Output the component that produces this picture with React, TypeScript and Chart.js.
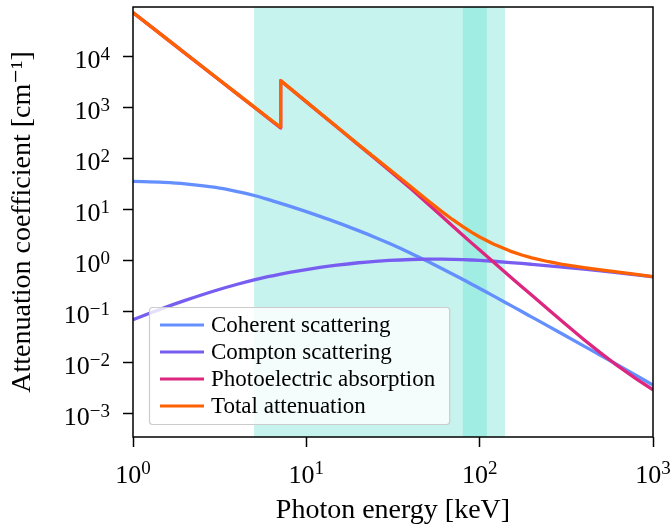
import React, { useEffect, useRef } from "react";
import { Chart, registerables } from "chart.js";

Chart.register(...registerables);

// Photon energies in keV (K-edge repeated)
const energies = [1, 1.5, 2, 3, 4, 5, 6, 7.112, 7.112, 8, 10, 12, 15, 20, 25, 30, 40, 50, 60, 70, 80, 90, 100, 120, 150, 175, 200, 250, 300, 400, 500, 600, 800, 1000];
// Attenuation coefficients in cm^-1
const coherent = [36.0, 34.5, 32.4, 27.4, 22.7, 19.1, 16.0, 13.4, 13.4, 11.8, 9.2, 7.45, 5.68, 3.9, 2.87, 2.2, 1.41, 0.977, 0.716, 0.546, 0.43, 0.348, 0.286, 0.205, 0.135, 0.101, 0.0787, 0.0518, 0.0366, 0.0212, 0.0139, 0.00977, 0.00562, 0.00366];
const compton = [0.07, 0.1186, 0.1675, 0.262, 0.347, 0.4226, 0.487, 0.5485, 0.5485, 0.5916, 0.673, 0.74, 0.82, 0.915, 0.978, 1.018, 1.06, 1.074, 1.074, 1.066, 1.053, 1.037, 1.02, 0.98, 0.925, 0.886, 0.852, 0.797, 0.753, 0.685, 0.633, 0.592, 0.529, 0.483];
const photoelectric = [74000, 25200, 11700, 3990, 1860, 1025, 631, 402, 3400, 2450, 1310, 785, 420, 186, 100, 60, 26.1, 13.3, 7.64, 4.78, 3.18, 2.22, 1.62, 0.944, 0.489, 0.31, 0.21, 0.109, 0.0644, 0.0284, 0.01545, 0.00966, 0.00484, 0.00295];
const total = [74036, 25235, 11733, 4018, 1883, 1044.5, 647.5, 416, 3414, 2462, 1320, 793, 426.5, 190.8, 103.8, 63.2, 28.57, 15.35, 9.43, 6.39, 4.66, 3.61, 2.93, 2.13, 1.55, 1.3, 1.14, 0.958, 0.854, 0.735, 0.662, 0.611, 0.539, 0.49];

const seriesLabels = ["Coherent scattering", "Compton scattering", "Photoelectric absorption", "Total attenuation"];
const seriesColors = ["#648FFF", "#785EF0", "#DC267F", "#FE6100"];
const seriesSmooth = [true, true, false, false];

// shaded energy windows (keV)
const bandRanges = [[5, 140], [80, 110]];
const bandColors = ["#c6f3ed", "#a0ede3"];

// axis ticks
const xTicks = [1, 10, 100, 1000];
const yTicks = [1e-3, 1e-2, 1e-1, 1, 10, 100, 1000, 10000];
const xRange = [1, 1000];
const yRange = [3.5e-4, 9.5e4];

const xTitle = "Photon energy [keV]";
const yTitle = "Attenuation coefficient [cm\u207B\u00B9]";

const FONT = "'Liberation Serif', 'DejaVu Serif', serif";

const bandPlugin = {
  id: "bands",
  beforeDatasetsDraw(chart: any) {
    const { ctx, chartArea: ca, scales } = chart;
    ctx.save();
    bandRanges.forEach((r, i) => {
      const x0 = scales.x.getPixelForValue(r[0]);
      const x1 = scales.x.getPixelForValue(r[1]);
      ctx.fillStyle = bandColors[i];
      ctx.fillRect(x0, ca.top, x1 - x0, ca.bottom - ca.top);
    });
    ctx.restore();
  },
};

const framePlugin = {
  id: "frame",
  afterDatasetsDraw(chart: any) {
    const { ctx, chartArea: ca } = chart;
    ctx.save();
    ctx.strokeStyle = "#000";
    ctx.lineWidth = 1.5;
    ctx.strokeRect(ca.left, ca.top, ca.right - ca.left, ca.bottom - ca.top);
    ctx.restore();
  },
};

const expText = (v: number) => {
  const e = Math.round(Math.log10(v));
  return e < 0 ? "\u2212" + String(-e) : String(e);
};

const tickLabelPlugin = {
  id: "tickLabels",
  afterDraw(chart: any) {
    const { ctx, chartArea: ca, scales } = chart;
    ctx.save();
    ctx.fillStyle = "#000";
    ctx.textBaseline = "alphabetic";
    ctx.textAlign = "left";
    const baseFont = `26px ${FONT}`;
    const supFont = `19px ${FONT}`;
    yTicks.forEach((v) => {
      const py = scales.y.getPixelForValue(v);
      const ex = expText(v);
      ctx.font = supFont;
      const we = ctx.measureText(ex).width;
      ctx.font = baseFont;
      const wb = ctx.measureText("10").width;
      const right = ca.left - 23;
      const base = py + 11.3;
      ctx.fillText("10", right - we - wb, base);
      ctx.font = supFont;
      ctx.fillText(ex, right - we, base - 8.5);
    });
    xTicks.forEach((v) => {
      const px = scales.x.getPixelForValue(v);
      const ex = expText(v);
      ctx.font = supFont;
      const we = ctx.measureText(ex).width;
      ctx.font = baseFont;
      const wb = ctx.measureText("10").width;
      const start = px - (we + wb) / 2;
      const base = ca.bottom + 45.7;
      ctx.fillText("10", start, base);
      ctx.font = supFont;
      ctx.fillText(ex, start + wb, base - 8.5);
    });
    ctx.restore();
  },
};

const legendPlugin = {
  id: "insideLegend",
  afterDraw(chart: any) {
    const { ctx, chartArea: ca } = chart;
    const ds = chart.data.datasets;
    ctx.save();
    ctx.font = `23px ${FONT}`;
    let maxW = 0;
    ds.forEach((d: any) => {
      maxW = Math.max(maxW, ctx.measureText(d.label).width);
    });
    const rowH = 27;
    const left = ca.left + 16;
    const boxH = rowH * (ds.length - 1) + 36;
    const bottom = ca.bottom - 13;
    const top = bottom - boxH;
    const boxW = 11 + 44 + 7 + maxW + 14;
    ctx.beginPath();
    if ((ctx as any).roundRect) (ctx as any).roundRect(left + 0.5, top + 0.5, boxW, boxH, 3);
    else ctx.rect(left + 0.5, top + 0.5, boxW, boxH);
    ctx.fillStyle = "rgba(255,255,255,0.8)";
    ctx.fill();
    ctx.strokeStyle = "#cccccc";
    ctx.lineWidth = 1.2;
    ctx.stroke();
    ds.forEach((d: any, i: number) => {
      const y = top + 18 + i * rowH;
      ctx.strokeStyle = d.borderColor;
      ctx.lineWidth = 3.2;
      ctx.beginPath();
      ctx.moveTo(left + 11, y);
      ctx.lineTo(left + 55, y);
      ctx.stroke();
      ctx.fillStyle = "#000";
      ctx.textBaseline = "middle";
      ctx.textAlign = "left";
      ctx.fillText(d.label, left + 62, y + 1);
    });
    ctx.restore();
  },
};

const seriesValues = [coherent, compton, photoelectric, total];

export default function App() {
  const ref = useRef<HTMLCanvasElement>(null);
  useEffect(() => {
    const canvas = ref.current;
    if (!canvas) return;
    const datasets = seriesValues.map((vals, i) => {
      const pts = energies.map((e, j) => ({ x: e, y: vals[j] }));
      // smooth scattering curves have no edge: drop the repeated energy
      const data = seriesSmooth[i] ? pts.filter((p, j) => j === 0 || energies[j] !== energies[j - 1]) : pts;
      return {
        label: seriesLabels[i],
        data,
        borderColor: seriesColors[i],
        backgroundColor: seriesColors[i],
        borderWidth: 3.3,
        pointRadius: 0,
        tension: 0,
        cubicInterpolationMode: seriesSmooth[i] ? ("monotone" as const) : ("default" as const),
        fill: false,
        borderJoinStyle: "round" as const,
        order: seriesValues.length - 1 - i,
      };
    });
    const chart = new Chart(canvas, {
      type: "line",
      data: { datasets },
      options: {
        responsive: false,
        animation: false,
        devicePixelRatio: 1,
        layout: { padding: { top: 7, right: 19, left: 0, bottom: 0 } },
        plugins: { legend: { display: false }, tooltip: { enabled: false } },
        scales: {
          x: {
            type: "logarithmic",
            min: xRange[0],
            max: xRange[1],
            afterBuildTicks: (s: any) => {
              s.ticks = xTicks.map((v) => ({ value: v }));
            },
            afterFit: (s: any) => {
              s.height = 92;
            },
            grid: { display: true, drawOnChartArea: false, drawTicks: true, tickLength: 10, tickWidth: 1.5, tickColor: "#000" },
            border: { display: false },
            ticks: { display: false },
            title: { display: true, text: xTitle, color: "#000", font: { family: FONT, size: 28, lineHeight: 1 }, padding: { top: 0, bottom: 4 } },
          },
          y: {
            type: "logarithmic",
            min: yRange[0],
            max: yRange[1],
            afterBuildTicks: (s: any) => {
              s.ticks = yTicks.map((v) => ({ value: v }));
            },
            afterFit: (s: any) => {
              s.width = 133;
            },
            grid: { display: true, drawOnChartArea: false, drawTicks: true, tickLength: 10, tickWidth: 1.5, tickColor: "#000" },
            border: { display: false },
            ticks: { display: false },
            title: { display: true, text: yTitle, color: "#000", font: { family: FONT, size: 28, lineHeight: 1 }, padding: { top: 9, bottom: 0 } },
          },
        },
      },
      plugins: [bandPlugin, framePlugin, tickLabelPlugin, legendPlugin],
    } as any);
    return () => chart.destroy();
  }, []);
  return (
    <canvas
      ref={ref}
      width={672}
      height={529}
      style={{ position: "absolute", left: 0, top: 0, width: 672, height: 529 }}
    />
  );
}
